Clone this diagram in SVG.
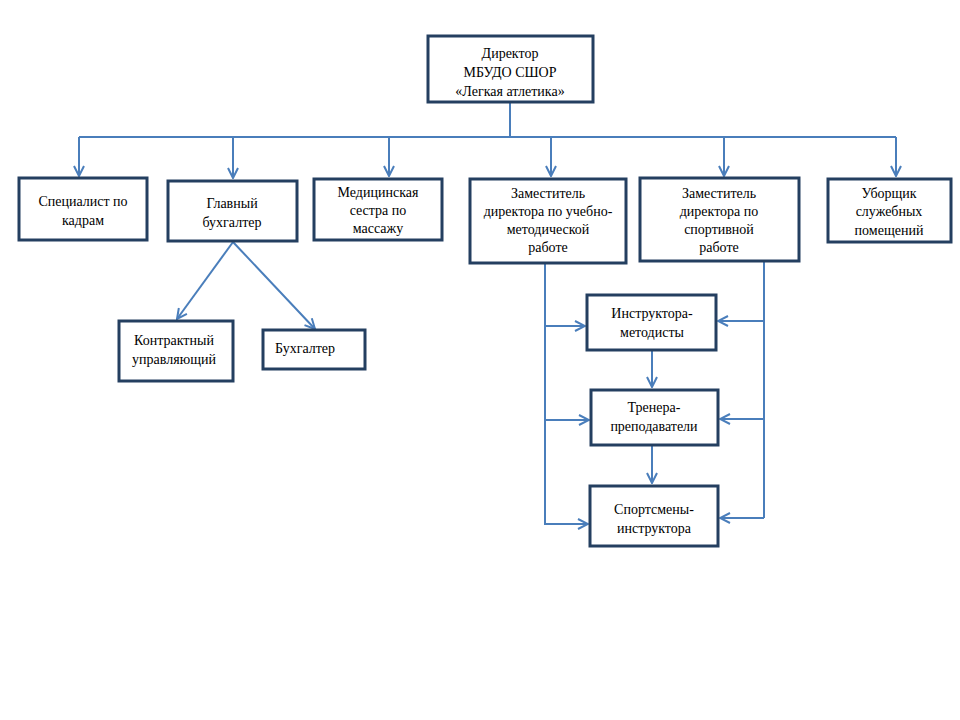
<svg xmlns="http://www.w3.org/2000/svg" width="960" height="720" viewBox="0 0 960 720">
<style>
.box{fill:#fff;stroke:#243f60;stroke-width:3}
.c{fill:none;stroke:#4a7ebb;stroke-width:2}
text{font-family:'Liberation Serif','Times New Roman',serif;font-size:14px;fill:#000;text-anchor:middle}
</style>
<defs>
<marker id="a" viewBox="0 0 12 12" refX="11" refY="6" markerWidth="12" markerHeight="12" markerUnits="userSpaceOnUse" orient="auto">
<path d="M1,1 L11,6 L1,11" fill="none" stroke="#4a7ebb" stroke-width="2"/>
</marker>
</defs>
<rect width="960" height="720" fill="#fff"/>
<g id="connectors">
<path class="c" d="M510,102 V137 M79,137 H896"/>
<path class="c" d="M79,137 V176" marker-end="url(#a)"/>
<path class="c" d="M233,137 V178" marker-end="url(#a)"/>
<path class="c" d="M389,137 V176" marker-end="url(#a)"/>
<path class="c" d="M551,137 V176" marker-end="url(#a)"/>
<path class="c" d="M724,137 V176" marker-end="url(#a)"/>
<path class="c" d="M896,137 V176" marker-end="url(#a)"/>
<path class="c" d="M233,242 L177,319" marker-end="url(#a)"/>
<path class="c" d="M233,242 L315,329" marker-end="url(#a)"/>
<path class="c" d="M545,264 V525"/>
<path class="c" d="M545,326 H585" marker-end="url(#a)"/>
<path class="c" d="M545,420 H589" marker-end="url(#a)"/>
<path class="c" d="M545,524 H588" marker-end="url(#a)"/>
<path class="c" d="M764,262 V518"/>
<path class="c" d="M764,321 H718" marker-end="url(#a)"/>
<path class="c" d="M764,419 H720" marker-end="url(#a)"/>
<path class="c" d="M764,518 H720" marker-end="url(#a)"/>
<path class="c" d="M652,351 V387" marker-end="url(#a)"/>
<path class="c" d="M652,446 V483" marker-end="url(#a)"/>
</g>
<g id="director"><rect class="box" x="428" y="36" width="165" height="66"/>
<text x="510" y="58" font-size="15">Директор</text><text x="510" y="77" font-size="15">МБУДО СШОР</text><text x="510" y="96" font-size="15">«Легкая  атлетика»</text></g>
<g id="specialist"><rect class="box" x="19" y="178" width="128" height="62"/>
<text x="83" y="206">Специалист по</text><text x="83" y="225">кадрам</text></g>
<g id="glavbuh"><rect class="box" x="168" y="181" width="129" height="60"/>
<text x="232" y="208" font-size="15">Главный</text><text x="232" y="227" font-size="15">бухгалтер</text></g>
<g id="medsestra"><rect class="box" x="314" y="179" width="128" height="61"/>
<text x="378" y="197">Медицинская</text><text x="378" y="215">сестра по</text><text x="378" y="233">массажу</text></g>
<g id="zam-uch"><rect class="box" x="470" y="179" width="156" height="84"/>
<text x="548" y="198">Заместитель</text><text x="548" y="216">директора по  учебно-</text><text x="548" y="234">методической</text><text x="548" y="252">работе</text></g>
<g id="zam-sport"><rect class="box" x="640" y="178" width="159" height="83"/>
<text x="719" y="198">Заместитель</text><text x="719" y="216">директора по</text><text x="719" y="234">спортивной</text><text x="719" y="252">работе</text></g>
<g id="uborshchik"><rect class="box" x="828" y="179" width="123" height="63"/>
<text x="889" y="198">Уборщик</text><text x="889" y="216">служебных</text><text x="889" y="235">помещений</text></g>
<g id="kontrakt"><rect class="box" x="119" y="321" width="114" height="60"/>
<text x="174" y="345">Контрактный</text><text x="174" y="364">управляющий</text></g>
<g id="buhgalter"><rect class="box" x="263" y="330" width="102" height="39"/>
<text x="305" y="353">Бухгалтер</text></g>
<g id="instruktora"><rect class="box" x="587" y="295" width="129" height="55"/>
<text x="652" y="318">Инструктора-</text><text x="652" y="337">методисты</text></g>
<g id="trenera"><rect class="box" x="591" y="390" width="127" height="55"/>
<text x="654" y="412">Тренера-</text><text x="654" y="431">преподаватели</text></g>
<g id="sportsmeny"><rect class="box" x="590" y="486" width="128" height="60"/>
<text x="654" y="514">Спортсмены-</text><text x="654" y="533">инструктора</text></g>
</svg>
